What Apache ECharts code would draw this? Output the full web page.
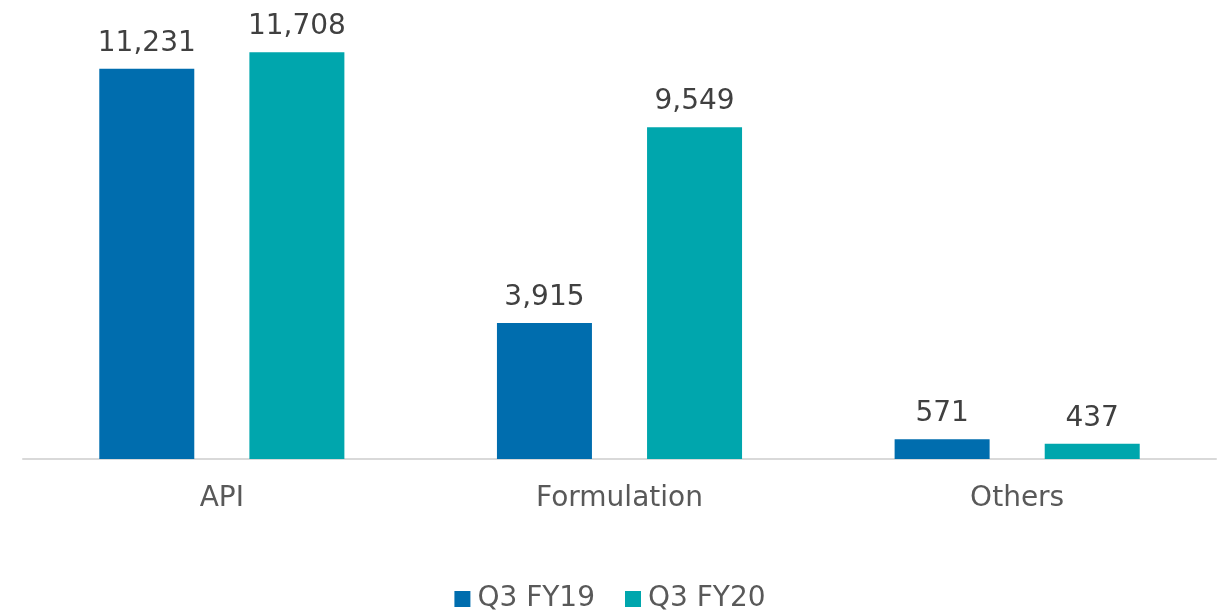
<!DOCTYPE html>
<html>
<head>
<meta charset="utf-8">
<script src="https://cdn.jsdelivr.net/npm/echarts@6/dist/echarts.min.js"></script>
<style>
  html, body { margin: 0; padding: 0; background: #fff; }
  #chart { width: 1220px; height: 612px; }
</style>
</head>
<body>
<div id="chart"></div>
<script>
// categories and series values
var categories = ['API', 'Formulation', 'Others'];
var seriesNames = ['Q3 FY19', 'Q3 FY20'];
var fy19 = [11231, 3915, 571];
var fy20 = [11708, 9549, 437];

var font = '"DejaVu Sans", sans-serif';

var chart = echarts.init(document.getElementById('chart'));

function fmt(p) {
  return p.value.toLocaleString('en-US');
}

var labelStyle = {
  show: true,
  position: 'top',
  distance: 11,
  color: '#404040',
  fontSize: 28,
  fontFamily: font,
  formatter: fmt
};

chart.setOption({
  animation: false,
  color: ['#006dae', '#00a6ad'],
  grid: { left: 23, right: 4, top: 42, bottom: 153 },
  legend: {
    bottom: -6,
    itemWidth: 16,
    itemHeight: 16,
    itemGap: 30,
    icon: 'rect',
    textStyle: { color: '#595959', fontSize: 28, fontFamily: font, padding: [0, 0, 0, 2] },
    data: seriesNames
  },
  xAxis: {
    type: 'category',
    data: categories,
    axisLine: { lineStyle: { color: '#d9d9d9', width: 2 } },
    axisTick: { show: false },
    axisLabel: { color: '#595959', fontSize: 28, fontFamily: font, margin: 26 }
  },
  yAxis: {
    type: 'value',
    min: 0,
    max: 12000,
    show: false,
    splitLine: { show: false }
  },
  series: [
    { name: seriesNames[0], type: 'bar', data: fy19, barWidth: 95, barGap: '58%', label: labelStyle },
    { name: seriesNames[1], type: 'bar', data: fy20, barWidth: 95, label: labelStyle }
  ]
});
</script>
</body>
</html>
